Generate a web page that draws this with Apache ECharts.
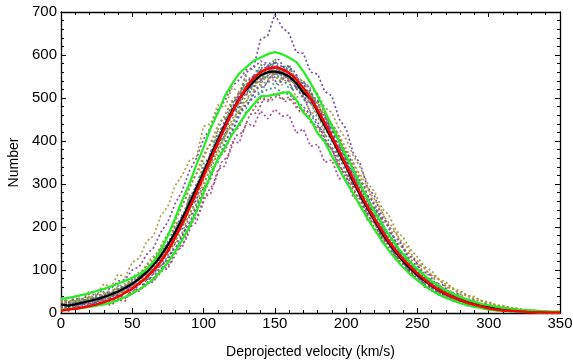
<!DOCTYPE html>
<html><head><meta charset="utf-8">
<script src="https://cdn.jsdelivr.net/npm/echarts@6/dist/echarts.min.js"></script>
<style>html,body{margin:0;padding:0;background:#fff}#c{width:573px;height:364px}</style>
</head><body><div id="c"></div>
<script>
const velocities = [0,5,10,15,20,25,30,35,40,45,50,55,60,65,70,75,80,85,90,95,100,105,110,115,120,125,130,135,140,145,150,155,160,165,170,175,180,185,190,195,200,205,210,215,220,225,230,235,240,245,250,255,260,265,270,275,280,285,290,295,300,305,310,315,320,325,330,335,340,345,350];
const velocitiesHalf = [2.5,7.5,12.5,17.5,22.5,27.5,32.5,37.5,42.5,47.5,52.5,57.5,62.5,67.5,72.5,77.5,82.5,87.5,92.5,97.5,102.5,107.5,112.5,117.5,122.5,127.5,132.5,137.5,142.5,147.5,152.5,157.5,162.5,167.5,172.5,177.5,182.5,187.5,192.5,197.5,202.5,207.5,212.5,217.5,222.5,227.5,232.5,237.5,242.5,247.5,252.5,257.5,262.5,267.5,272.5,277.5,282.5,287.5,292.5,297.5,302.5,307.5,312.5,317.5,322.5,327.5,332.5,337.5,342.5,347.5];
const xTicks = [0,50,100,150,200,250,300,350];
const yTicks = [0,100,200,300,400,500,600,700];

const fitRed = [5,8,10,13,16,20,25,31,38,47, 57,69,83,100,120,145,175,208,243,280, 318,357,395,432,466,497,524,545,560,568, 571,567,558,543,523,499,472,442,410,377, 344,311,278,248,219,192,167,145,125,108, 92,78,65,54,45,37,30,24,19,15, 11,8,6,5,4,3,2,2,1,1,1];
const meanBlack = [20,17,20,24,28,32,37,43,50,58, 68,80,95,112,133,158,187,219,254,290, 327,365,402,437,470,498,520,538,553,560, 562,558,550,535,512,500,468,435,405,372, 340,306,273,243,214,187,162,140,120,103, 88,75,63,53,44,37,30,25,20,16, 13,10,8,6,5,4,3,2,2,1,1];
const upperGreen = [33,35,38,42,46,51,56,62,68,75, 82,90,102,120,145,180,220,262,300,345, 385,430,465,505,533,557,572,586,594,602, 607,602,594,584,562,535,505,470,436,400, 365,333,298,265,236,207,182,158,137,118, 102,87,74,63,53,45,38,31,26,21, 18,15,12,10,8,7,6,5,4,3,3];
const lowerGreen = [8,9,10,12,14,17,20,24,30,37, 45,55,66,80,97,118,142,170,200,235, 280,320,358,385,415,440,465,485,504,505, 508,512,514,496,466,450,418,398,365,335, 305,278,248,220,193,168,145,125,106,90, 76,63,52,43,35,29,23,18,14,11, 8,6,5,4,3,2,2,1,1,0,0];

const run1 = [24,12,26,18,34,26,44,36,58,50, 78,70,106,100,146,144,200,206,268,276, 332,360,410,432,490,500,560,570,636,645, 694,665,650,606,604,560,556,515,505,452, 428,372,346,292,272,224,204,162,152,120, 110,84,78,58,56,38,38,25,24,16, 16,10,10,6,6,3,4,2,3,1,1];
const run2 = [16,6,18,11,24,17,32,24,40,34, 56,50,72,72,104,102,146,152,200,210, 268,278,334,342,398,396,442,434,470,452, 474,458,460,418,428,388,392,350,356,312, 318,268,266,216,212,166,164,122,120,88, 86,60,60,42,42,27,28,17,18,11, 12,6,7,4,5,2,3,1,2,0,0];
const run3 = [32,22,40,30,52,42,68,60,90,84, 118,128,166,180,226,248,296,320,354,364, 434,440,484,478,524,514,552,540,560,544, 558,530,540,502,506,466,462,414,408,354, 345,292,280,230,222,176,170,128,126,94, 92,68,68,46,48,32,34,21,22,14, 15,8,9,6,6,3,4,2,3,1,1];
const run4 = [34,22,32,26,39,34,50,46,63,60, 84,80,110,112,150,158,206,218,272,288, 348,362,424,432,490,494,542,540,578,566, 592,560,578,536,542,498,494,440,432,376, 366,308,300,244,238,186,184,140,138,102, 100,74,74,52,52,36,37,24,25,15, 16,9,10,6,7,3,4,2,3,1,1];
const run5 = [12,24,14,26,22,38,30,48,44,64, 60,86,88,120,124,166,178,228,246,298, 316,374,392,448,458,510,508,552,540,578, 548,574,540,552,512,512,468,456,410,394, 344,330,278,262,216,204,162,154,118,114, 86,82,62,59,42,42,28,29,19,19, 12,12,7,8,4,5,2,3,1,2,1];
const run6 = [6,15,10,19,16,28,24,37,34,49, 47,67,68,94,100,134,146,186,205,255, 276,330,350,402,420,466,476,514,512,540, 530,546,522,530,496,494,452,444,398,386, 340,322,278,260,220,204,166,156,125,117, 90,85,65,62,45,43,30,30,20,20, 13,12,8,8,4,5,2,3,1,2,1];
const run7 = [26,14,29,20,37,32,44,44,56,58, 77,80,104,112,144,158,198,220,264,290, 336,356,406,426,468,486,518,522,546,542, 558,544,551,528,526,498,488,450,436,394, 378,334,316,272,256,214,202,164,156,124, 118,90,88,64,64,44,44,30,30,19, 20,12,13,7,8,4,5,2,3,1,1];
const run8 = [18,4,16,11,22,18,24,18,30,28, 56,54,78,82,112,122,162,178,224,244, 292,312,360,376,420,432,470,472,500,492, 512,496,502,478,474,444,434,396,382,340, 326,284,266,226,211,174,162,128,121,92, 88,63,61,43,42,28,28,18,18,10, 12,6,7,3,4,2,3,1,1,0,0];
const run9 = [30,18,20,23,29,26,44,36,56,52, 74,72,102,104,140,150,194,210,262,282, 336,356,412,426,479,488,530,528,564,548, 574,546,560,524,522,488,474,424,414,361, 346,296,282,234,222,178,169,132,126,96, 94,68,69,46,50,31,34,20,24,12, 15,7,10,4,6,2,4,1,2,1,1];
const run10 = [36,24,34,32,44,42,56,56,74,78, 100,108,136,152,188,212,254,284,330,360, 404,432,472,494,528,542,566,570,586,580, 582,562,552,522,502,466,444,404,380,340, 316,276,254,218,199,166,152,124,114,90, 84,64,61,44,43,30,30,20,20,12, 13,7,8,4,5,2,3,1,2,1,1];
const run11 = [8,20,12,24,18,30,26,40,36,52, 54,72,76,102,110,144,162,206,224,272, 290,348,364,420,432,488,490,538,530,568, 552,564,546,548,514,516,474,462,420,402, 354,338,288,272,228,212,172,160,128,118, 90,86,64,62,44,44,30,31,20,21, 13,13,8,9,4,5,2,3,1,2,1];
const run12 = [28,30,26,34,32,40,42,50,54,64, 80,90,110,126,152,178,212,248,290,324, 368,396,436,460,494,512,532,548,556,566, 560,560,542,540,508,508,470,466,424,414, 362,350,306,290,250,236,200,186,150,136, 114,104,86,78,62,56,44,40,31,27, 22,18,15,12,9,7,6,4,3,2,2];
const run13 = [22,10,24,18,30,24,40,34,52,46, 70,66,94,96,130,140,182,196,248,262, 320,342,396,412,470,476,528,524,566,552, 586,550,574,524,536,488,496,432,434,366, 360,296,292,228,226,172,170,128,130,90, 92,62,64,42,46,28,32,18,22,11, 14,6,9,4,5,2,3,1,1,0,0];
const run14 = [20,26,24,30,30,36,38,46,48,60, 66,80,92,110,128,154,180,214,246,282, 318,352,384,412,440,464,484,500,512,520, 524,514,508,494,480,462,436,418,386,362, 328,304,270,250,220,198,170,156,128,118, 96,86,70,62,50,44,35,30,24,20, 16,12,10,8,6,5,4,3,2,1,1];
const run15 = [14,24,16,28,22,34,30,46,42,62, 60,86,86,118,124,162,176,226,240,302, 312,378,388,452,456,516,504,556,536,578, 552,578,546,556,510,518,464,460,400,392, 334,326,264,258,206,200,156,150,114,110, 82,80,58,58,40,40,27,28,18,18, 11,11,7,7,4,4,2,2,1,1,0];
const run16 = [26,16,28,20,32,28,38,38,50,48, 64,66,86,96,120,136,170,186,232,254, 302,332,378,408,452,470,508,518,552,550, 574,560,566,548,540,522,510,478,466,428, 404,366,338,302,282,244,228,192,176,148, 130,108,98,78,72,56,52,40,38,28, 26,18,17,12,11,7,7,4,4,2,2];

const half1 = [22,14,26,22,34,30,46,40,60,58, 82,84,110,120,152,170,212,238,282,306, 356,380,430,448,500,508,546,552,578,572, 590,566,568,536,532,500,486,446,428,386, 362,316,296,250,236,194,182,144,132,104, 98,74,70,50,48,33,33,22,22,14, 14,8,9,5,6,3,3,2,2,1];
const half2 = [30,26,32,34,40,42,50,54,66,72, 90,100,124,140,172,196,236,266,312,336, 380,404,446,462,504,512,540,544,560,556, 562,548,540,516,500,474,450,416,394,352, 330,288,268,226,210,172,160,128,118,92, 86,66,62,46,44,30,31,20,20,13, 12,8,8,5,5,3,3,2,2,1];
const half3 = [12,10,16,14,20,20,26,28,36,40, 52,58,72,84,104,118,150,170,212,236, 280,302,350,366,412,420,462,466,500,494, 508,492,500,468,470,434,426,390,368,330, 314,272,256,214,200,164,152,120,112,84, 80,58,56,40,38,26,25,16,16,10, 9,5,5,3,3,2,2,1,1,0];
const half4 = [14,24,18,30,24,38,32,50,46,70, 68,96,96,132,134,182,190,246,258,322, 330,398,402,470,470,530,514,568,542,582, 548,576,534,542,500,506,448,440,384,378, 316,310,250,246,192,192,144,144,106,104, 76,76,54,54,38,38,25,26,16,16, 10,10,6,6,4,4,2,2,1,1];
const half5 = [24,18,26,22,30,28,38,40,50,56, 70,80,100,112,140,158,196,220,262,290, 330,360,398,424,458,480,506,520,536,540, 548,540,540,526,516,498,478,450,428,398, 366,334,308,276,252,220,200,172,154,128, 114,94,86,70,64,51,46,36,33,25, 22,17,15,11,9,7,6,4,3,2];
const half6 = [18,20,14,26,20,32,28,42,40,56, 58,76,80,104,116,142,160,196,222,262, 296,340,372,414,438,478,492,524,526,552, 530,552,520,528,490,492,444,440,392,380, 334,320,278,266,226,214,178,168,136,126, 98,92,70,66,48,46,32,32,21,21, 13,13,8,8,5,5,3,3,1,1];

const runs = [run1,run2,run3,run4,run5,run6,run7,run8,run9,run10,run11,run12,run13,run14,run15,run16];
const runColors = ['#6a48a0','#a8468f','#a89a3c','#4f9a4a','#4656aa','#479a98','#c08a3a','#a84c4c','#6c7c98','#7d4aa6','#5aa04a','#b07a3a','#5a4aa8','#3a8a8a','#b04aa0','#9a9a3a'];
const halfRuns = [half1,half2,half3,half4,half5,half6];
const halfColors = ['#5a5ab0','#8a9a3a','#a05070','#3a9a8a','#c0903a','#6a4ab0'];

function pairs(xs, arr){ return xs.map((v,i)=>[v,arr[i]]); }

const series = [];
runs.forEach((r,k)=>{
  series.push({type:'line', data:pairs(velocities, r), showSymbol:false, silent:true, z:2,
    lineStyle:{color:runColors[k], width:1.7, type:[2,2.5], opacity:0.95}});
});
halfRuns.forEach((r,k)=>{
  series.push({type:'line', data:pairs(velocitiesHalf, r), showSymbol:false, silent:true, z:2,
    lineStyle:{color:halfColors[k], width:1.7, type:[2,2.5], opacity:0.95}});
});
series.push({type:'line', data:pairs(velocities, meanBlack), showSymbol:false, z:3, lineStyle:{color:'#000', width:2.2}});
series.push({type:'line', data:pairs(velocities, upperGreen), showSymbol:false, z:4, lineStyle:{color:'#22ee22', width:2.2}});
series.push({type:'line', data:pairs(velocities, lowerGreen), showSymbol:false, z:4, lineStyle:{color:'#22ee22', width:2.2}});
series.push({type:'line', data:pairs(velocities, fitRed), showSymbol:false, smooth:true, z:5, lineStyle:{color:'#ff0000', width:2.5}});

const font = 'Liberation Sans';
const tickCommon = {show:true, inside:true, length:5, lineStyle:{color:'#000', width:1}};
const minorCommon = {show:true, splitNumber:5, length:3, lineStyle:{color:'#000', width:1}};

const chart = echarts.init(document.getElementById('c'), null, {renderer:'canvas'});
chart.setOption({
  animation:false,
  backgroundColor:'#fff',
  grid:{left:61, right:13, top:12, bottom:51, containLabel:false, outerBoundsMode:'none'},
  xAxis:[
    {type:'value', min:xTicks[0], max:xTicks[xTicks.length-1], interval:50, position:'bottom',
     name:'Deprojected velocity (km/s)', nameLocation:'middle', nameGap:32,
     nameTextStyle:{fontFamily:font, fontSize:14, color:'#000'},
     axisLine:{show:true, onZero:false, lineStyle:{color:'#000', width:1.3}},
     axisTick:tickCommon, minorTick:minorCommon, splitLine:{show:false},
     axisLabel:{fontFamily:font, fontSize:15, color:'#000', margin:3}},
    {type:'value', min:xTicks[0], max:xTicks[xTicks.length-1], interval:50, position:'top',
     axisLine:{show:true, onZero:false, lineStyle:{color:'#000', width:1.3}},
     axisTick:tickCommon, minorTick:minorCommon, splitLine:{show:false}, axisLabel:{show:false}}
  ],
  yAxis:[
    {type:'value', min:yTicks[0], max:yTicks[yTicks.length-1], interval:100, position:'left',
     name:'Number', nameLocation:'middle', nameGap:38,
     nameTextStyle:{fontFamily:font, fontSize:14, color:'#000'},
     axisLine:{show:true, onZero:false, lineStyle:{color:'#000', width:1.3}},
     axisTick:tickCommon, minorTick:minorCommon, splitLine:{show:false},
     axisLabel:{fontFamily:font, fontSize:15, color:'#000', margin:4}},
    {type:'value', min:yTicks[0], max:yTicks[yTicks.length-1], interval:100, position:'right',
     axisLine:{show:true, onZero:false, lineStyle:{color:'#000', width:1.3}},
     axisTick:tickCommon, minorTick:minorCommon, splitLine:{show:false}, axisLabel:{show:false}}
  ],
  series:series
});
</script></body></html>
